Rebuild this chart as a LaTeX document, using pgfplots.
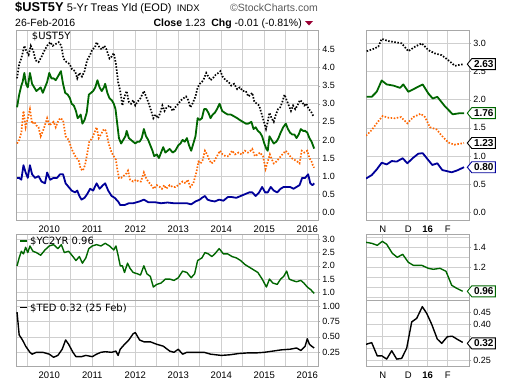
\documentclass[border=0pt]{standalone}
\usepackage{fontspec}
\setmainfont{Liberation Sans}
\newfontfamily\dvs{DejaVu Sans}
\usepackage{pgfplots}
\pgfplotsset{compat=1.18}
\definecolor{gridc}{HTML}{CFCFCF}
\definecolor{framec}{HTML}{A8A8A8}
\definecolor{scgreen}{HTML}{006600}
\definecolor{scorange}{HTML}{FF6600}
\definecolor{scblue}{HTML}{000099}
\definecolor{scred}{HTML}{990033}
\newcommand\sctag[3]{\begin{scope}[shift={(#1)}]
 \draw[draw=#2,line width=0.9pt,fill=white,line join=miter] (-2pt,0pt) -- (2.5pt,5.5pt) -- (26pt,5.5pt) -- (26pt,-5.5pt) -- (2.5pt,-5.5pt) -- cycle;
 \node[font=\bfseries\fontsize{10}{10}\selectfont, inner sep=0pt] at (14.5pt,0pt) {#3};\end{scope}}
\begin{document}
\begin{tikzpicture}
\useasboundingbox (0pt,0pt) rectangle (510pt,384pt);
\pgfplotsset{
 sc/.style={scale only axis, anchor=north west, axis line style={draw=framec, line width=0.8pt},
  grid=both, major grid style={draw=gridc, line width=0.6pt}, minor grid style={draw=gridc, line width=0.6pt},
  ytick pos=right, yticklabel pos=right, tick align=outside, major tick length=2pt, minor tick length=0pt,
  xtick style={draw=none}, ytick style={draw=framec},
  tick label style={font=\fontsize{9}{9}\selectfont},
  yticklabel style={xshift=-1.5pt, /pgf/number format/fixed, /pgf/number format/fixed zerofill, /pgf/number format/precision=1},
  /pgf/number format/assume math mode=true, scaled y ticks=false, clip mode=individual, no markers},
 yrs/.style={xmin=2009.226, xmax=2016.256, xtick={2010,2011,2012,2013,2014,2015,2016},
  minor xtick={2009.5,2010.5,2011.5,2012.5,2013.5,2014.5,2015.5},
  xticklabels={2010,2011,2012,2013,2014,2015,2016}, xticklabel style={font=\fontsize{9.5}{9.5}\selectfont}},
 mos/.style={xmin=366, xmax=469.3, xtick={382.7,408.3,427.7,447.7}, xticklabels={N,D,\textbf{16},F}, xticklabel style={font=\fontsize{9.5}{9.5}\selectfont}},
 dotl/.style={line width=1.7pt, dash pattern=on 1.5pt off 1.6pt},
 soll/.style={line width=1.8pt, line join=round},
}
% ---------------- main left
\begin{axis}[sc, yrs, at={(16pt,353.3pt)}, width=302.3pt, height=189.3pt, ymin=-0.213, ymax=5.017, ytick={0,0.5,1,1.5,2,2.5,3,3.5,4,4.5}]
\addplot[black, dotl] coordinates {(2009.25,3.7)(2009.3,4.1)(2009.35,4.25)(2009.42,4.6)(2009.47,4.45)(2009.52,4.35)(2009.57,4.6)(2009.63,4.45)(2009.68,4.2)(2009.75,4.15)(2009.82,4.3)(2009.88,4.45)(2009.95,4.6)(2010.02,4.7)(2010.08,4.6)(2010.15,4.65)(2010.22,4.7)(2010.28,4.6)(2010.33,4.25)(2010.4,4.15)(2010.47,4.1)(2010.53,3.95)(2010.6,3.9)(2010.65,3.7)(2010.7,3.85)(2010.76,3.75)(2010.82,3.9)(2010.88,4.2)(2010.95,4.35)(2011.0,4.5)(2011.06,4.55)(2011.1,4.7)(2011.17,4.55)(2011.22,4.5)(2011.28,4.6)(2011.33,4.5)(2011.4,4.25)(2011.45,4.3)(2011.5,4.4)(2011.55,4.1)(2011.6,3.6)(2011.65,3.35)(2011.7,2.95)(2011.75,3.2)(2011.8,3.35)(2011.85,3.05)(2011.9,3.0)(2011.95,3.1)(2012.0,2.95)(2012.05,3.05)(2012.12,3.15)(2012.2,3.35)(2012.25,3.2)(2012.3,3.05)(2012.37,2.8)(2012.42,2.6)(2012.47,2.7)(2012.53,2.6)(2012.58,2.75)(2012.63,2.95)(2012.68,2.8)(2012.73,2.9)(2012.8,2.95)(2012.87,2.8)(2012.93,2.9)(2013.0,3.0)(2013.07,3.1)(2013.12,3.15)(2013.18,3.2)(2013.23,3.1)(2013.28,2.9)(2013.33,3.0)(2013.4,3.2)(2013.45,3.45)(2013.5,3.55)(2013.55,3.6)(2013.6,3.7)(2013.65,3.85)(2013.7,3.75)(2013.75,3.65)(2013.8,3.7)(2013.87,3.8)(2013.93,3.85)(2013.98,3.9)(2014.03,3.75)(2014.1,3.65)(2014.17,3.6)(2014.23,3.5)(2014.3,3.55)(2014.37,3.4)(2014.43,3.45)(2014.5,3.35)(2014.57,3.35)(2014.63,3.2)(2014.68,3.25)(2014.72,3.3)(2014.77,3.05)(2014.83,3.0)(2014.88,2.95)(2014.93,2.75)(2014.98,2.55)(2015.04,2.3)(2015.08,2.5)(2015.12,2.75)(2015.17,2.6)(2015.22,2.5)(2015.27,2.7)(2015.32,2.85)(2015.37,2.9)(2015.42,3.05)(2015.47,3.25)(2015.52,3.1)(2015.57,2.95)(2015.62,2.8)(2015.67,2.95)(2015.72,2.85)(2015.77,2.95)(2015.83,3.1)(2015.88,3.05)(2015.93,2.95)(2015.98,3.0)(2016.03,2.85)(2016.08,2.8)(2016.12,2.7)(2016.16,2.63)};
\addplot[scgreen, soll] coordinates {(2009.25,2.9)(2009.3,3.25)(2009.35,3.5)(2009.38,3.6)(2009.42,3.85)(2009.46,3.55)(2009.5,3.45)(2009.55,3.85)(2009.6,3.55)(2009.65,3.45)(2009.7,3.35)(2009.75,3.4)(2009.8,3.45)(2009.85,3.3)(2009.9,3.45)(2009.95,3.6)(2010.0,3.85)(2010.05,3.7)(2010.1,3.7)(2010.15,3.65)(2010.2,3.75)(2010.27,3.9)(2010.32,3.55)(2010.37,3.3)(2010.43,3.25)(2010.48,3.15)(2010.52,3.0)(2010.57,2.95)(2010.62,2.8)(2010.66,2.6)(2010.7,2.65)(2010.73,2.7)(2010.77,2.45)(2010.82,2.55)(2010.87,2.75)(2010.92,3.25)(2010.97,3.3)(2011.02,3.35)(2011.07,3.45)(2011.12,3.65)(2011.17,3.45)(2011.22,3.35)(2011.27,3.45)(2011.3,3.55)(2011.35,3.3)(2011.4,3.15)(2011.45,3.1)(2011.5,3.0)(2011.54,2.85)(2011.58,2.45)(2011.62,2.05)(2011.67,1.9)(2011.72,2.0)(2011.77,2.1)(2011.8,2.25)(2011.85,2.05)(2011.9,2.0)(2011.95,1.95)(2012.0,1.9)(2012.05,1.95)(2012.1,1.95)(2012.15,2.05)(2012.2,2.3)(2012.25,2.1)(2012.3,2.0)(2012.35,1.85)(2012.4,1.7)(2012.44,1.55)(2012.5,1.6)(2012.55,1.5)(2012.6,1.65)(2012.65,1.8)(2012.7,1.65)(2012.75,1.7)(2012.8,1.75)(2012.87,1.65)(2012.93,1.7)(2013.0,1.85)(2013.05,1.9)(2013.1,2.0)(2013.15,1.95)(2013.2,2.05)(2013.25,1.85)(2013.3,1.7)(2013.35,1.9)(2013.4,2.1)(2013.45,2.6)(2013.5,2.55)(2013.55,2.6)(2013.6,2.85)(2013.65,2.85)(2013.7,2.75)(2013.75,2.6)(2013.8,2.7)(2013.85,2.75)(2013.9,2.85)(2013.96,3.0)(2014.02,2.8)(2014.08,2.75)(2014.15,2.7)(2014.22,2.7)(2014.3,2.65)(2014.37,2.6)(2014.43,2.55)(2014.5,2.5)(2014.57,2.45)(2014.63,2.45)(2014.7,2.5)(2014.75,2.3)(2014.8,2.35)(2014.85,2.25)(2014.9,2.2)(2014.95,2.1)(2015.0,1.9)(2015.05,1.75)(2015.08,1.7)(2015.12,2.1)(2015.17,2.0)(2015.22,1.9)(2015.28,1.95)(2015.33,2.05)(2015.38,2.2)(2015.44,2.35)(2015.5,2.45)(2015.55,2.3)(2015.6,2.2)(2015.65,2.15)(2015.7,2.15)(2015.75,2.05)(2015.8,2.15)(2015.85,2.3)(2015.9,2.25)(2015.95,2.25)(2016.0,2.2)(2016.05,2.05)(2016.1,1.95)(2016.16,1.76)};
\addplot[scorange, dotl] coordinates {(2009.25,1.9)(2009.3,2.0)(2009.35,2.2)(2009.4,2.8)(2009.45,2.35)(2009.5,2.6)(2009.55,2.85)(2009.6,2.45)(2009.65,2.5)(2009.7,2.4)(2009.75,2.35)(2009.8,2.1)(2009.87,2.3)(2009.95,2.6)(2010.0,2.4)(2010.05,2.45)(2010.1,2.5)(2010.15,2.35)(2010.2,2.5)(2010.25,2.6)(2010.32,2.55)(2010.38,2.1)(2010.45,2.0)(2010.52,1.75)(2010.58,1.6)(2010.63,1.5)(2010.68,1.45)(2010.73,1.2)(2010.78,1.15)(2010.83,1.3)(2010.88,1.6)(2010.93,1.95)(2011.0,2.05)(2011.05,2.2)(2011.1,2.35)(2011.15,2.05)(2011.2,2.15)(2011.27,2.3)(2011.32,2.25)(2011.38,1.9)(2011.45,1.65)(2011.5,1.55)(2011.55,1.45)(2011.58,1.2)(2011.62,0.95)(2011.67,0.95)(2011.72,1.0)(2011.78,1.05)(2011.83,1.15)(2011.88,0.9)(2011.95,0.85)(2012.02,0.9)(2012.08,0.85)(2012.13,0.85)(2012.2,1.1)(2012.25,0.95)(2012.3,0.85)(2012.37,0.75)(2012.43,0.65)(2012.5,0.75)(2012.57,0.7)(2012.62,0.65)(2012.67,0.75)(2012.72,0.65)(2012.8,0.75)(2012.87,0.7)(2012.93,0.7)(2013.0,0.75)(2013.05,0.8)(2013.1,0.85)(2013.17,0.8)(2013.22,0.9)(2013.28,0.7)(2013.35,0.8)(2013.42,1.1)(2013.47,1.4)(2013.52,1.35)(2013.57,1.45)(2013.62,1.7)(2013.67,1.6)(2013.72,1.45)(2013.77,1.35)(2013.83,1.4)(2013.9,1.55)(2013.97,1.7)(2014.03,1.6)(2014.1,1.55)(2014.17,1.55)(2014.25,1.7)(2014.32,1.6)(2014.4,1.65)(2014.47,1.6)(2014.55,1.7)(2014.62,1.65)(2014.68,1.7)(2014.72,1.75)(2014.78,1.55)(2014.85,1.6)(2014.9,1.65)(2014.97,1.55)(2015.03,1.2)(2015.08,1.4)(2015.13,1.6)(2015.18,1.45)(2015.22,1.35)(2015.28,1.4)(2015.35,1.5)(2015.42,1.6)(2015.5,1.7)(2015.57,1.6)(2015.63,1.5)(2015.7,1.45)(2015.77,1.4)(2015.82,1.35)(2015.87,1.7)(2015.93,1.65)(2016.0,1.7)(2016.05,1.5)(2016.1,1.4)(2016.13,1.3)(2016.16,1.23)};
\addplot[scblue, soll] coordinates {(2009.25,0.95)(2009.3,0.95)(2009.35,0.9)(2009.4,1.3)(2009.45,1.1)(2009.5,0.95)(2009.55,1.3)(2009.6,1.05)(2009.67,0.95)(2009.75,1.0)(2009.82,0.85)(2009.9,0.8)(2009.95,1.1)(2010.02,0.9)(2010.1,0.95)(2010.18,0.95)(2010.25,1.05)(2010.32,1.05)(2010.38,0.8)(2010.45,0.7)(2010.52,0.6)(2010.6,0.55)(2010.65,0.6)(2010.7,0.45)(2010.75,0.35)(2010.82,0.4)(2010.88,0.5)(2010.95,0.65)(2011.02,0.6)(2011.1,0.8)(2011.17,0.65)(2011.25,0.75)(2011.3,0.8)(2011.37,0.6)(2011.45,0.45)(2011.52,0.4)(2011.6,0.3)(2011.65,0.2)(2011.75,0.2)(2011.85,0.25)(2011.95,0.25)(2012.1,0.3)(2012.2,0.35)(2012.3,0.28)(2012.45,0.28)(2012.6,0.25)(2012.75,0.27)(2012.9,0.25)(2013.05,0.25)(2013.2,0.25)(2013.3,0.22)(2013.4,0.3)(2013.5,0.35)(2013.55,0.4)(2013.62,0.45)(2013.68,0.35)(2013.75,0.32)(2013.85,0.3)(2013.95,0.35)(2014.05,0.32)(2014.15,0.42)(2014.25,0.42)(2014.35,0.4)(2014.45,0.45)(2014.55,0.5)(2014.65,0.55)(2014.72,0.55)(2014.8,0.45)(2014.88,0.55)(2014.95,0.7)(2015.02,0.55)(2015.08,0.55)(2015.15,0.7)(2015.22,0.6)(2015.3,0.55)(2015.38,0.65)(2015.45,0.7)(2015.52,0.7)(2015.6,0.7)(2015.68,0.65)(2015.75,0.7)(2015.82,0.75)(2015.88,0.95)(2015.95,0.95)(2016.02,1.05)(2016.07,0.8)(2016.12,0.75)(2016.16,0.8)};
\end{axis}
% ---------------- main right
\begin{axis}[sc, mos, at={(366pt,353.3pt)}, width=103.3pt, height=189.3pt, ymin=-0.137, ymax=3.224, ytick={0,0.5,1,1.5,2,2.5,3}]
\addplot[black, dotl] coordinates {(366.7,2.86)(373.3,2.90)(378.3,2.94)(381.7,3.08)(388.3,3.04)(395,3.02)(401.7,3.0)(408.3,2.86)(415,2.94)(421.7,3.0)(428.3,2.88)(435,2.82)(441.7,2.79)(448.3,2.70)(455,2.60)(460,2.62)(464,2.63)};
\addplot[scgreen, soll] coordinates {(366.7,2.05)(371.7,2.05)(376.7,2.14)(381.7,2.34)(386.7,2.27)(393.3,2.25)(400,2.21)(403.3,2.27)(408.3,2.14)(415,2.20)(422.7,2.27)(428.3,2.11)(432.7,2.02)(437.3,2.05)(445,1.88)(452.7,1.74)(460,1.76)(464,1.76)};
\addplot[scorange, dotl] coordinates {(366,1.36)(371.7,1.46)(376.7,1.58)(382.7,1.71)(388.3,1.68)(395,1.67)(401,1.69)(407.3,1.58)(413.3,1.69)(420.7,1.75)(425,1.69)(430,1.51)(436.7,1.47)(441.7,1.36)(448.3,1.24)(454.3,1.20)(464,1.23)};
\addplot[scblue, soll] coordinates {(366,0.60)(371.7,0.66)(376.7,0.76)(381.7,0.88)(386.7,0.85)(391.7,0.91)(396.7,0.90)(402.7,0.96)(407.3,0.87)(413.3,0.97)(418.3,1.04)(422.7,1.05)(427.7,0.94)(432.3,0.84)(437.3,0.87)(442.3,0.75)(451.7,0.71)(456.7,0.74)(464,0.80)};
\coordinate (tA) at (axis cs:469.3,2.63);
\coordinate (tB) at (axis cs:469.3,1.76);
\coordinate (tC) at (axis cs:469.3,1.23);
\coordinate (tD) at (axis cs:469.3,0.80);
\end{axis}
% ---------------- YC2YR left
\begin{axis}[sc, yrs, xticklabels={}, at={(16pt,149.7pt)}, width=302.3pt, height=65.7pt, ymin=0.71, ymax=3.19, ytick={1,1.5,2,2.5,3}]
\addplot[scgreen, line width=1.4pt, line join=round] coordinates {(2009.25,2.0)(2009.3,2.3)(2009.35,2.55)(2009.4,2.45)(2009.45,2.7)(2009.5,2.5)(2009.55,2.75)(2009.62,2.55)(2009.7,2.5)(2009.8,2.4)(2009.9,2.6)(2010.0,2.75)(2010.1,2.8)(2010.2,2.65)(2010.28,2.8)(2010.35,2.5)(2010.45,2.55)(2010.55,2.35)(2010.62,2.2)(2010.7,2.35)(2010.77,2.1)(2010.85,2.3)(2010.92,2.65)(2011.0,2.75)(2011.1,2.8)(2011.2,2.75)(2011.3,2.85)(2011.4,2.75)(2011.5,2.6)(2011.55,2.75)(2011.6,2.4)(2011.65,2.0)(2011.7,2.0)(2011.75,1.75)(2011.82,2.1)(2011.88,1.9)(2011.95,1.75)(2012.05,1.7)(2012.12,1.65)(2012.2,2.0)(2012.27,1.7)(2012.35,1.6)(2012.42,1.2)(2012.5,1.3)(2012.6,1.35)(2012.7,1.5)(2012.8,1.5)(2012.9,1.45)(2013.0,1.55)(2013.1,1.8)(2013.2,1.75)(2013.3,1.55)(2013.38,1.7)(2013.45,2.2)(2013.55,2.3)(2013.62,2.5)(2013.7,2.45)(2013.78,2.35)(2013.85,2.45)(2013.95,2.65)(2014.05,2.45)(2014.15,2.45)(2014.25,2.35)(2014.35,2.3)(2014.45,2.2)(2014.55,2.05)(2014.65,1.95)(2014.75,1.85)(2014.85,1.75)(2014.95,1.5)(2015.05,1.2)(2015.12,1.5)(2015.2,1.35)(2015.3,1.3)(2015.38,1.5)(2015.45,1.6)(2015.52,1.8)(2015.58,1.5)(2015.65,1.45)(2015.75,1.4)(2015.85,1.45)(2015.92,1.35)(2016.0,1.2)(2016.08,1.1)(2016.16,0.96)};
\end{axis}
% ---------------- TED left
\begin{axis}[sc, yrs, at={(16pt,84pt)}, width=302.3pt, height=66.7pt, ymin=0.017, ymax=1.097, ytick={0.25,0.5,0.75,1}, yticklabel style={/pgf/number format/precision=2}]
\addplot[black, line width=1.4pt, line join=round] coordinates {(2009.25,0.9)(2009.3,0.53)(2009.35,0.48)(2009.4,0.42)(2009.45,0.35)(2009.55,0.25)(2009.6,0.22)(2009.7,0.25)(2009.85,0.25)(2010.0,0.22)(2010.1,0.17)(2010.2,0.2)(2010.3,0.3)(2010.38,0.45)(2010.45,0.38)(2010.55,0.25)(2010.62,0.18)(2010.75,0.18)(2010.85,0.2)(2011.0,0.18)(2011.1,0.22)(2011.2,0.25)(2011.3,0.26)(2011.45,0.25)(2011.55,0.27)(2011.6,0.2)(2011.65,0.3)(2011.75,0.38)(2011.85,0.45)(2011.95,0.55)(2012.0,0.57)(2012.1,0.45)(2012.2,0.42)(2012.35,0.42)(2012.5,0.38)(2012.65,0.35)(2012.8,0.27)(2012.9,0.25)(2013.0,0.3)(2013.1,0.22)(2013.2,0.25)(2013.4,0.25)(2013.6,0.25)(2013.75,0.22)(2014.0,0.2)(2014.2,0.21)(2014.4,0.23)(2014.6,0.24)(2014.8,0.24)(2015.0,0.25)(2015.2,0.27)(2015.4,0.29)(2015.6,0.3)(2015.75,0.32)(2015.85,0.28)(2015.95,0.35)(2016.0,0.47)(2016.05,0.38)(2016.1,0.35)(2016.16,0.32)};
\end{axis}
% ---------------- YC2YR right
\begin{axis}[sc, mos, xticklabels={}, at={(366pt,149.7pt)}, width=103.3pt, height=65.7pt, ymin=0.873, ymax=1.53, ytick={1.0,1.2,1.4}, yticklabels={,1.2,1.4}, minor ytick={0.9,1.1,1.3,1.5}]
\addplot[scgreen, line width=1.4pt, line join=round] coordinates {(366,1.45)(371.7,1.44)(377.3,1.42)(382.3,1.46)(386.7,1.43)(392.3,1.34)(397.3,1.30)(402.7,1.33)(408.3,1.25)(413.3,1.22)(421.7,1.22)(428.3,1.19)(433.3,1.18)(440,1.19)(446,1.16)(451.7,1.02)(456.7,0.99)(462.7,0.96)};
\coordinate (tE) at (axis cs:469.3,0.96);
\end{axis}
% ---------------- TED right
\begin{axis}[sc, mos, at={(366pt,84pt)}, width=103.3pt, height=66.7pt, ymin=0.222, ymax=0.502, ytick={0.25,0.30,0.35,0.40,0.45}, yticklabels={0.25,,,0.40,0.45}]
\addplot[black, line width=1.4pt, line join=round] coordinates {(366,0.316)(371.7,0.323)(377.3,0.267)(381.7,0.268)(386.7,0.254)(391.7,0.289)(396.7,0.254)(401.7,0.257)(406.7,0.30)(411.7,0.41)(416.7,0.425)(422.3,0.474)(426.7,0.446)(431.7,0.40)(437.3,0.338)(441.7,0.32)(447.3,0.348)(452.3,0.35)(457.3,0.337)(462.7,0.324)};
\coordinate (tF) at (axis cs:469.3,0.32);
\end{axis}
% ---------------- tags
\sctag{tA}{black}{2.63}
\sctag{tB}{scgreen}{1.76}
\sctag{tC}{black}{1.23}
\sctag{tD}{scblue}{0.80}
\sctag{tE}{scgreen}{0.96}
\sctag{tF}{black}{0.32}
% ---------------- header and legends
\node[anchor=base west, inner sep=0pt, font=\bfseries\fontsize{12.8}{13}\selectfont] at (15pt,372.5pt) {\$UST5Y};
\node[anchor=base west, inner sep=0pt, font=\fontsize{11}{11}\selectfont] at (66.7pt,372.5pt) {5-Yr Treas Yld (EOD)};
\node[anchor=base west, inner sep=0pt, font=\fontsize{9.5}{10}\selectfont] at (176.7pt,372.5pt) {INDX};
\node[anchor=base west, inner sep=0pt, text=black!65, font=\fontsize{10.5}{11}\selectfont] at (230pt,372.5pt) {©StockCharts.com};
\node[anchor=base west, inner sep=0pt, font=\fontsize{10.5}{11}\selectfont] at (15pt,357.3pt) {26-Feb-2016};
\node[anchor=base east, inner sep=0pt, font=\fontsize{10.5}{11}\selectfont] at (302pt,357.3pt) {\textbf{Close} 1.23\ \ \textbf{Chg} -0.01 (-0.81\%)};
\fill[scred] (305pt,363pt) -- (313pt,363pt) -- (309pt,358.5pt) -- cycle;
\node[anchor=base west, inner sep=0pt, font=\dvs\fontsize{10}{10}\selectfont] at (31.7pt,344.7pt) {\$UST5Y};
\draw[scgreen, line width=1.6pt] (20pt,143pt) -- (26.7pt,143pt);
\node[anchor=base west, inner sep=0pt, font=\dvs\fontsize{10}{10}\selectfont] at (30pt,140pt) {\$YC2YR 0.96};
\draw[black, line width=1.6pt] (20pt,76.7pt) -- (26.7pt,76.7pt);
\node[anchor=base west, inner sep=0pt, font=\dvs\fontsize{10}{10}\selectfont] at (30pt,73pt) {\$TED 0.32 (25 Feb)};
\end{tikzpicture}
\end{document}
